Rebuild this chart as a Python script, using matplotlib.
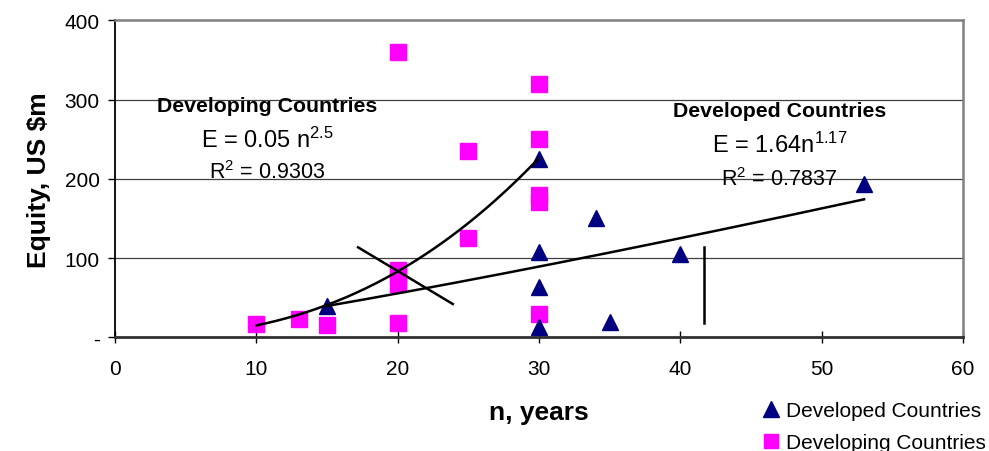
import numpy as np
import matplotlib
matplotlib.use("Agg")
import matplotlib.pyplot as plt
from matplotlib.lines import Line2D

plt.rcParams['font.family'] = ['Liberation Sans', 'DejaVu Sans']
plt.rcParams['mathtext.default'] = 'regular'

# ---- data ----
developed_n = [15, 30, 30, 30, 30, 34, 35, 40, 53]
developed_e = [40, 225, 108, 64, 13, 150, 19, 105, 194]

developing_n = [10, 13, 15, 20, 20, 20, 20, 20, 25, 25, 30, 30, 30, 30, 30]
developing_e = [17, 23, 16, 360, 18, 85, 77, 67, 235, 125, 320, 250, 180, 171, 29]

# trend lines (power law, E = a * n^b)
dev_ing_a, dev_ing_b, dev_ing_range = 0.0508, 2.47, (10, 30)
dev_ed_a, dev_ed_b, dev_ed_range = 1.64, 1.175, (15, 53)

# extra drawn strokes
stroke1_x, stroke1_y = [17.2, 23.9], [113.5, 42]
stroke2_x, stroke2_y = [41.65, 41.65], [113.5, 18]

x_ticks = [0, 10, 20, 30, 40, 50, 60]
y_ticks = [0, 100, 200, 300, 400]
y_ticklabels = ['-', '100', '200', '300', '400']

navy = '#000080'
magenta = '#FF00FF'

fig = plt.figure(figsize=(9.89, 4.52), dpi=100)
ax = fig.add_axes([115/989, 1-338.3/452, (963-115)/989, (338.3-21.3)/452])

ax.set_xlim(0, 60)
ax.set_ylim(0, 400)

for y in [100, 200, 300]:
    ax.axhline(y, color='#404040', lw=0.9, zorder=0)

ax.plot(developing_n, developing_e, linestyle='none', marker='s', ms=11.5,
        color=magenta, mec=magenta, zorder=3)
ax.plot(developed_n, developed_e, linestyle='none', marker='^', ms=12,
        color=navy, mec=navy, zorder=4)

n1 = np.linspace(*dev_ing_range, 200)
ax.plot(n1, dev_ing_a * n1 ** dev_ing_b, color='black', lw=1.8, zorder=5)
n2 = np.linspace(*dev_ed_range, 200)
ax.plot(n2, dev_ed_a * n2 ** dev_ed_b, color='black', lw=1.8, zorder=5)
ax.plot(stroke1_x, stroke1_y, color='black', lw=1.8, zorder=5)
ax.plot(stroke2_x, stroke2_y, color='black', lw=1.8, zorder=5)

# spines
ax.spines['left'].set_color('black')
ax.spines['left'].set_linewidth(1.3)
ax.spines['bottom'].set_color('#303030')
ax.spines['bottom'].set_linewidth(2.0)
ax.spines['top'].set_color('#808080')
ax.spines['top'].set_linewidth(1.8)
ax.spines['right'].set_color('#808080')
ax.spines['right'].set_linewidth(1.8)

ax.set_xticks(x_ticks)
ax.set_xticklabels([str(t) for t in x_ticks])
ax.set_yticks(y_ticks)
ax.set_yticklabels(y_ticklabels)
ax.tick_params(axis='x', direction='inout', length=9, width=1, labelsize=15, pad=11)
ax.tick_params(axis='y', direction='out', length=5, width=1, labelsize=15, pad=6)

ax.set_xlabel('n, years', fontsize=19, fontweight='bold', labelpad=16)
ax.set_ylabel('Equity, US $m', fontsize=19, fontweight='bold', labelpad=10)

# annotations
ax.text(10.75, 285, 'Developing Countries', fontsize=15.3, fontweight='bold',
        ha='center', va='baseline')
ax.text(10.77, 240, 'E = 0.05 n$^{2.5}$', fontsize=17, ha='center', va='baseline')
ax.text(10.77, 200.5, 'R$^{2}$ = 0.9303', fontsize=15.5, ha='center', va='baseline')

ax.text(47.0, 279.6, 'Developed Countries', fontsize=15.3, fontweight='bold',
        ha='center', va='baseline')
ax.text(47.0, 234.2, 'E = 1.64n$^{1.17}$', fontsize=17, ha='center', va='baseline')
ax.text(47.0, 192.2, 'R$^{2}$ = 0.7837', fontsize=15.5, ha='center', va='baseline')

# caption (mostly cut off at bottom edge, as in the reference)
fig.text(207/989, 1-474/452, 'Figure 1:  Equity Vs Concession Period',
         fontsize=23, fontweight='bold', family=['Liberation Serif'],
         ha='left', va='baseline')

handles = [
    Line2D([], [], linestyle='none', marker='^', ms=12, color=navy, mec=navy),
    Line2D([], [], linestyle='none', marker='s', ms=10.5, color=magenta, mec=magenta),
]
fig.legend(handles, ['Developed Countries', 'Developing Countries'],
           loc='upper left', bbox_to_anchor=(763/989, 1-402/452),
           frameon=False, fontsize=15, handlelength=0.8, handletextpad=0.3,
           labelspacing=0.62, borderpad=0, borderaxespad=0)

fig.savefig('out.png', dpi=100)
